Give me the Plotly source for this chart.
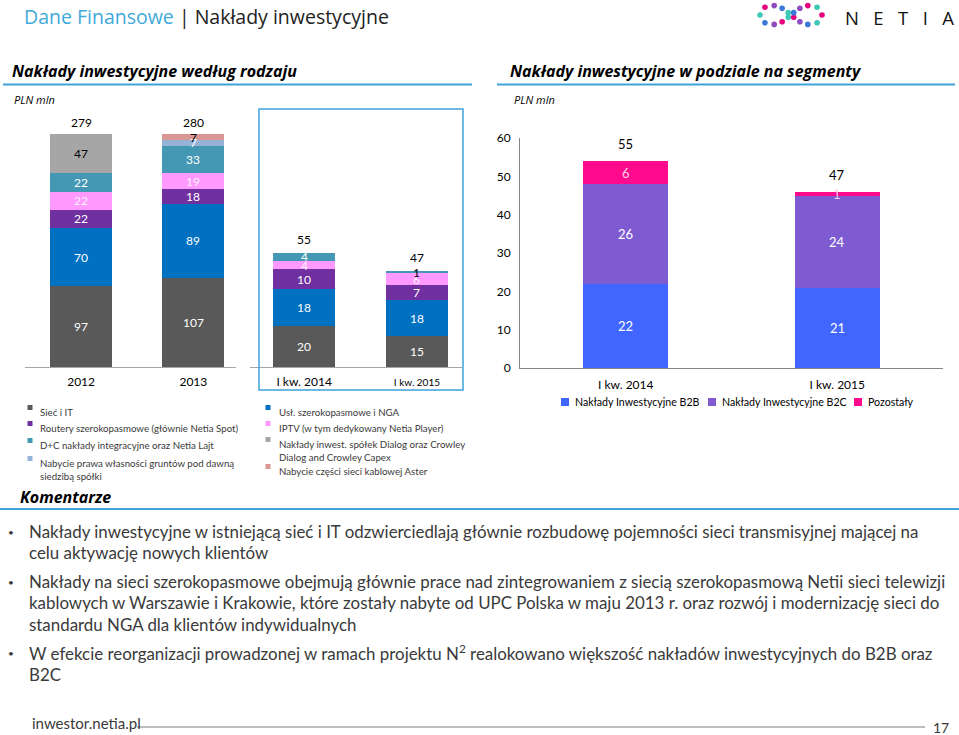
import math
import plotly.graph_objects as go

W, H = 959, 735


def px(x):
    return x / W


def py(y):
    return 1 - y / H


# ---------------- data ----------------
years = ["2012", "2013"]
quarters = ["I kw. 2014", "I kw. 2015"]

type_names = [
    "Sieć i IT",
    "Usł. szerokopasmowe i NGA",
    "Routery szerokopasmowe (głównie Netia Spot)",
    "IPTV (w tym dedykowany Netia Player)",
    "D+C nakłady integracyjne oraz Netia Lajt",
    "Nabycie prawa własności gruntów pod dawną<br>siedzibą spółki",
    "Nakłady inwest. spółek Dialog oraz Crowley<br>Dialog and Crowley Capex",
    "Nabycie części sieci kablowej Aster",
]
annual_values = [
    [97, 107],
    [70, 89],
    [22, 18],
    [22, 19],
    [22, 33],
    [0, 7],
    [47, 0],
    [0, 7],
]
quarter_values = [
    [20, 15],
    [18, 18],
    [10, 7],
    [4, 6],
    [4, 1],
    [0, 0],
    [0, 0],
    [0, 0],
]
annual_totals = [279, 280]
quarter_totals = [55, 47]

seg_names = ["Nakłady Inwestycyjne B2B", "Nakłady Inwestycyjne B2C", "Pozostały"]
seg_values = [
    [22, 21],
    [26, 24],
    [6, 1],
]
seg_totals = [55, 47]

bullets = [
    ["Nakłady inwestycyjne w istniejącą sieć i IT odzwierciedlają głównie rozbudowę pojemności sieci transmisyjnej mającej na",
     "celu aktywację nowych klientów"],
    ["Nakłady na sieci szerokopasmowe obejmują głównie prace nad zintegrowaniem z siecią szerokopasmową Netii sieci telewizji",
     "kablowych w Warszawie i Krakowie, które zostały nabyte od UPC Polska w maju 2013 r. oraz rozwój i modernizację sieci do",
     "standardu NGA dla klientów indywidualnych"],
    ["W efekcie reorganizacji prowadzonej w ramach projektu N<sup>2</sup> realokowano większość nakładów inwestycyjnych do B2B oraz",
     "B2C"],
]

# ---------------- styles ----------------
type_colors = ["#595959", "#0070C0", "#7030A0", "#FF99FF", "#4598B3",
               "#95B3D7", "#A6A6A6", "#D99694"]
type_label_colors = ["white", "white", "white", "#FFF0FF", "white",
                     "white", "black", "black"]
seg_colors = ["#4066FF", "#7E5BD0", "#FF0A8C"]
BLUE = "#3FA3DA"
TXT = "#3A3A3A"
FONT = "Lato"

fig = go.Figure()

for i, name in enumerate(type_names):
    fig.add_trace(go.Bar(x=years, y=annual_values[i], marker_color=type_colors[i],
                         marker_line_width=0, width=0.55, xaxis="x", yaxis="y",
                         name=name, showlegend=False, hoverinfo="skip"))
    fig.add_trace(go.Bar(x=quarters, y=quarter_values[i], marker_color=type_colors[i],
                         marker_line_width=0, width=0.55, xaxis="x2", yaxis="y2",
                         name=name, showlegend=False, hoverinfo="skip"))
for i, name in enumerate(seg_names):
    fig.add_trace(go.Bar(x=quarters, y=seg_values[i], marker_color=seg_colors[i],
                         marker_line_width=0, width=0.40, xaxis="x3", yaxis="y3",
                         name=name, showlegend=False, hoverinfo="skip"))

ann = []


def seg_labels(cats, series, xref, yref, colors, size=12):
    for j, _c in enumerate(cats):
        base = 0
        for i, vals in enumerate(series):
            v = vals[j]
            if v > 0:
                col = colors[i]
                if v <= 1 and xref != "x3":
                    col = "black"
                ann.append(dict(x=j, y=base + v / 2, xref=xref, yref=yref, text=str(v),
                                showarrow=False, font=dict(size=size, color=col, family=FONT)))
            base += v


seg_labels(years, annual_values, "x", "y", type_label_colors)
seg_labels(quarters, quarter_values, "x2", "y2", type_label_colors)
seg_labels(quarters, seg_values, "x3", "y3", ["white", "white", "#FFD0E8"], size=13)


def totals(cats, series, tots, xref, yref, shift, size=12):
    for j, _c in enumerate(cats):
        s = sum(v[j] for v in series)
        ann.append(dict(x=j, y=s, xref=xref, yref=yref, text=str(tots[j]), showarrow=False,
                        yanchor="bottom", yshift=shift,
                        font=dict(size=size, color="black", family=FONT)))


totals(years, annual_values, annual_totals, "x", "y", 2)
totals(quarters, quarter_values, quarter_totals, "x2", "y2", 4)
totals(quarters, seg_values, seg_totals, "x3", "y3", 7, size=13)

shapes = []

# header
ann.append(dict(x=px(22), y=py(16), xref="paper", yref="paper", xanchor="left", yanchor="middle",
                showarrow=False,
                text="<span style='color:#3FA9DA'>Dane Finansowe</span> <span style='color:#222'>| Nakłady inwestycyjne</span>",
                font=dict(size=19.5, family="Open Sans", color="#222")))
sp = "&nbsp;" * 3
ann.append(dict(x=px(956), y=py(18), xref="paper", yref="paper", xanchor="right", yanchor="middle",
                showarrow=False, text=sp.join(list("NETIA")),
                font=dict(size=18.5, family="Open Sans", color="#111")))
dot_cols = ["#E6007E", "#3CC8B4", "#3C78D8", "#8E4CC0"]
n = 18
for k in range(n):
    t = 2 * math.pi * k / n
    d = 1 + math.sin(t) ** 2
    cx = 791 + 31 * math.cos(t) / d
    cy = 15 + 27 * math.sin(t) * math.cos(t) / d
    r = 2.8
    shapes.append(dict(type="circle", xref="paper", yref="paper",
                       x0=px(cx - r), x1=px(cx + r), y0=py(cy + r), y1=py(cy - r),
                       fillcolor=dot_cols[k % 4], line_width=0))

# section headings
for x, txt in [(10, "Nakłady inwestycyjne według rodzaju"), (508, "Nakłady inwestycyjne w podziale na segmenty")]:
    ann.append(dict(x=px(x), y=py(71), xref="paper", yref="paper", xanchor="left", yanchor="middle",
                    showarrow=False, text="<b><i>" + txt + "</i></b>",
                    font=dict(size=16, family="Open Sans", color="black")))
for x in (12, 512):
    ann.append(dict(x=px(x), y=py(99), xref="paper", yref="paper", xanchor="left", yanchor="middle",
                    showarrow=False, text="<i>PLN mln</i>",
                    font=dict(size=11, family="Open Sans", color="black")))
shapes.append(dict(type="line", xref="paper", yref="paper", x0=px(3), x1=px(472), y0=py(84.5), y1=py(84.5),
                   line=dict(color=BLUE, width=2)))
shapes.append(dict(type="line", xref="paper", yref="paper", x0=px(497), x1=px(955), y0=py(84.5), y1=py(84.5),
                   line=dict(color=BLUE, width=2)))

# blue box around quarterly chart
shapes.append(dict(type="rect", xref="paper", yref="paper", x0=px(259), x1=px(463), y0=py(390), y1=py(109),
                   line=dict(color=BLUE, width=1.5)))

# left legend
col1 = [0, 2, 4, 5]
col2 = [1, 3, 6, 7]
pos1 = [411, 427, 444, 462]
pos2 = [411, 427, 443, 470]
for col, poss, mx, tx in [(col1, pos1, 30, 38), (col2, pos2, 268, 277)]:
    for idx, yy in zip(col, poss):
        shapes.append(dict(type="rect", xref="paper", yref="paper", x0=px(mx - 2.5), x1=px(mx + 2.5),
                           y0=py(yy - 1), y1=py(yy - 6), fillcolor=type_colors[idx], line_width=0))
        ann.append(dict(x=px(tx), y=py(yy - 7), xref="paper", yref="paper", xanchor="left", yanchor="top",
                        align="left", showarrow=False, text=type_names[idx],
                        font=dict(size=9.7, family=FONT, color=TXT)))

# right legend
for i, (mx, name) in enumerate(zip([565, 712, 858], seg_names)):
    shapes.append(dict(type="rect", xref="paper", yref="paper", x0=px(mx - 4), x1=px(mx + 4),
                       y0=py(406), y1=py(398), fillcolor=seg_colors[i], line_width=0))
    ann.append(dict(x=px(mx + 8), y=py(402), xref="paper", yref="paper", xanchor="left", yanchor="middle",
                    showarrow=False, text=name, font=dict(size=10.6, family=FONT, color="black")))

# comments
ann.append(dict(x=px(18), y=py(497), xref="paper", yref="paper", xanchor="left", yanchor="middle",
                showarrow=False, text="<b><i>Komentarze</i></b>",
                font=dict(size=16, family="Open Sans", color="black")))
shapes.append(dict(type="line", xref="paper", yref="paper", x0=0, x1=1, y0=py(509), y1=py(509),
                   line=dict(color=BLUE, width=2)))
line_y = [[531, 552], [581, 602, 624], [652, 674]]
for b, ys in zip(bullets, line_y):
    ann.append(dict(x=px(6), y=py(ys[0] + 1), xref="paper", yref="paper", xanchor="left", yanchor="middle",
                    showarrow=False, text="•", font=dict(size=10, family=FONT, color=TXT)))
    for txt, yy in zip(b, ys):
        ann.append(dict(x=px(27), y=py(yy), xref="paper", yref="paper", xanchor="left", yanchor="middle",
                        showarrow=False, text=txt, font=dict(size=16.9, family=FONT, color=TXT)))

# footer
ann.append(dict(x=px(30), y=py(723), xref="paper", yref="paper", xanchor="left", yanchor="middle",
                showarrow=False, text="inwestor.netia.pl", font=dict(size=15, family=FONT, color=TXT)))
ann.append(dict(x=px(951), y=py(727), xref="paper", yref="paper", xanchor="right", yanchor="middle",
                showarrow=False, text="17", font=dict(size=14, family=FONT, color=TXT)))
shapes.append(dict(type="line", xref="paper", yref="paper", x0=px(137), x1=px(925), y0=py(727), y1=py(727),
                   line=dict(color="#A6A6A6", width=1.5)))

axis_common = dict(showgrid=False, zeroline=False, ticks="", fixedrange=True, automargin=False)
fig.update_layout(
    width=W, height=H, margin=dict(l=0, r=0, t=0, b=0, pad=0, autoexpand=False),
    paper_bgcolor="white", plot_bgcolor="rgba(0,0,0,0)",
    barmode="stack", showlegend=False,
    font=dict(family=FONT, color=TXT),
    xaxis=dict(domain=[px(25), px(236)], range=[-0.5, 1.38], type="category", anchor="y",
               showline=True, linecolor="#A6A6A6", linewidth=1, ticklabelstandoff=4,
               tickfont=dict(size=12, color="black"), **axis_common),
    yaxis=dict(domain=[py(367), py(110)], range=[0, 309], visible=False, anchor="x", **axis_common),
    xaxis2=dict(domain=[px(250), px(462)], range=[-0.48, 1.40], type="category", anchor="y2",
                showline=True, linecolor="#A6A6A6", linewidth=1, ticklabelstandoff=4,
                tickvals=quarters,
                ticktext=[quarters[0], "<span style='font-size:10px'>" + quarters[1] + "</span>"],
                tickfont=dict(size=12, color="black"), **axis_common),
    yaxis2=dict(domain=[py(367), py(110)], range=[0, 126], visible=False, anchor="x2", **axis_common),
    xaxis3=dict(domain=[px(520), px(943)], range=[-0.5, 1.5], type="category", anchor="y3",
                showline=True, linecolor="#868686", linewidth=1, ticklabelstandoff=6,
                tickfont=dict(size=12, color="black"), **axis_common),
    yaxis3=dict(domain=[py(368), py(138)], range=[0, 60], dtick=10, anchor="x3",
                showline=True, linecolor="#868686", linewidth=1, ticklabelstandoff=6,
                tickfont=dict(size=12, color="black"), **axis_common),
    annotations=ann,
    shapes=shapes,
)

fig.write_html("out.html", config={"displayModeBar": False},
               post_script="document.body.style.margin='0';document.body.style.overflow='hidden';")
